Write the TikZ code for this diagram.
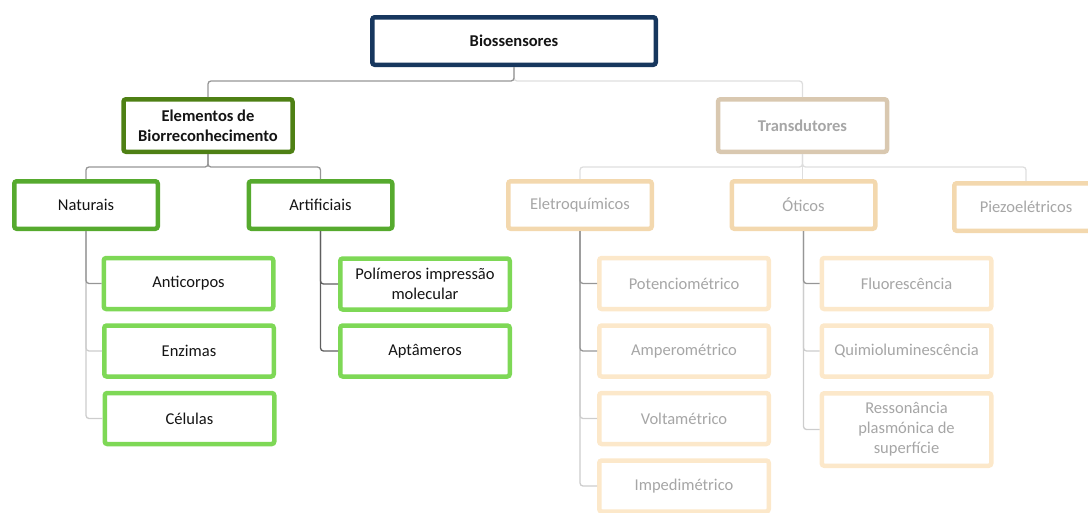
\documentclass[tikz,border=0pt]{standalone}
\usepackage{fontspec}
\setmainfont{Carlito}
\definecolor{navy}{RGB}{23,55,94}
\definecolor{leafdark}{RGB}{78,128,20}
\definecolor{leafmid}{RGB}{86,170,46}
\definecolor{leaflight}{RGB}{126,216,86}
\definecolor{sand}{RGB}{217,200,176}
\definecolor{peach}{RGB}{243,216,174}
\definecolor{peachlight}{RGB}{252,232,202}
\definecolor{inkdark}{RGB}{20,20,20}
\definecolor{inkfaint}{RGB}{166,166,166}
\definecolor{wiredark}{RGB}{95,95,95}
\definecolor{wiremid}{RGB}{150,150,150}
\definecolor{wirelight}{RGB}{205,205,205}
\definecolor{wirefaint}{RGB}{222,222,222}
\begin{document}
\begin{tikzpicture}[x=1pt,y=-1pt,
  box/.style={draw, line width=4.5pt, rounded corners=2.5pt, fill=white,
    align=center, inner sep=0pt, font=\fontsize{16.5}{20}\selectfont},
  rootbox/.style={box, minimum width=283.5pt, minimum height=47.5pt},
  headbox/.style={box, minimum width=169pt, minimum height=52.5pt},
  catbox/.style={box, minimum width=143.5pt, minimum height=47.5pt},
  leafbox/.style={box, minimum width=169.5pt, minimum height=51pt},
  wire/.style={line width=1.3pt, rounded corners=3pt}
]
\useasboundingbox (0,0) rectangle (1088,512);
\clip (0,0) rectangle (1088,512);

% root
\node[rootbox, draw=navy, text=inkdark] (bio) at (514,41) {\bfseries Biossensores};

% recognition branch
\node[headbox, draw=leafdark, text=inkdark] (elem) at (208,125.5) {\bfseries Elementos de\\\bfseries Biorreconhecimento};
\node[catbox, draw=leafmid, text=inkdark] (nat) at (86,205) {Naturais};
\node[catbox, draw=leafmid, text=inkdark] (art) at (320.5,205) {Artificiais};
\node[leafbox, draw=leaflight, text=inkdark] (anti) at (188.5,283.5) {Anticorpos};
\node[leafbox, draw=leaflight, text=inkdark] (enz) at (189,351) {Enzimas};
\node[leafbox, draw=leaflight, text=inkdark] (cel) at (189.5,418.5) {Células};
\node[leafbox, draw=leaflight, text=inkdark] (pol) at (425,284) {Polímeros impressão\\molecular};
\node[leafbox, draw=leaflight, text=inkdark] (apt) at (425,351) {Aptâmeros};

% transducer branch
\node[headbox, draw=sand, text=inkfaint] (trans) at (802.5,125.5) {\bfseries Transdutores};
\node[catbox, draw=peach, text=inkfaint] (ele) at (580,205) {Eletroquímicos};
\node[catbox, draw=peach, text=inkfaint] (oti) at (803.5,205) {Óticos};
\node[catbox, draw=peach, text=inkfaint] (pie) at (1026,207) {Piezoelétricos};
\node[leafbox, draw=peachlight, text=inkfaint] (pot) at (684,283.5) {Potenciométrico};
\node[leafbox, draw=peachlight, text=inkfaint] (amp) at (684,351) {Amperométrico};
\node[leafbox, draw=peachlight, text=inkfaint] (vol) at (684,418.5) {Voltamétrico};
\node[leafbox, draw=peachlight, text=inkfaint] (imp) at (684,486) {Impedimétrico};
\node[leafbox, draw=peachlight, text=inkfaint] (flu) at (906.5,283.5) {Fluorescência};
\node[leafbox, draw=peachlight, text=inkfaint] (qui) at (906.5,351) {Quimioluminescência};
\node[leafbox, draw=peachlight, text=inkfaint, minimum height=72.5pt] (res) at (906.5,429.5) {Ressonância\\plasmónica de\\superfície};

% root connectors
\draw[wire, wirefaint] (bio.south) -- ++(0,14) -| (trans.north);
\draw[wire, wiremid] (bio.south) -- ++(0,14) -| (elem.north);

% recognition connectors
\draw[wire, wiremid] (elem.south) -- ++(0,13) -| (nat.north);
\draw[wire, wiremid] (elem.south) -- ++(0,13) -| (art.north);
\draw[wire, wirelight] (nat.south) |- (cel.west);
\draw[wire, wirelight] (nat.south) |- (enz.west);
\draw[wire, wiremid] (nat.south) |- (anti.west);
\draw[wire, wiredark] (art.south) |- (apt.west);
\draw[wire, wiredark] (art.south) |- (pol.west);

% transducer connectors
\draw[wire, wirefaint] (trans.south) -- ++(0,13) -| (ele.north);
\draw[wire, wirefaint] (trans.south) -- ++(0,13) -| (pie.north);
\draw[wire, wirefaint] (trans.south) -- (oti.north -| trans.south);
\draw[wire, wirelight] (ele.south) |- (imp.west);
\draw[wire, wirelight] (ele.south) |- (vol.west);
\draw[wire, wiremid] (ele.south) |- (amp.west);
\draw[wire, wiremid] (ele.south) |- (pot.west);
\draw[wire, wirelight] (oti.south) |- (res.west);
\draw[wire, wirelight] (oti.south) |- (qui.west);
\draw[wire, wiremid] (oti.south) |- (flu.west);
\end{tikzpicture}
\end{document}
